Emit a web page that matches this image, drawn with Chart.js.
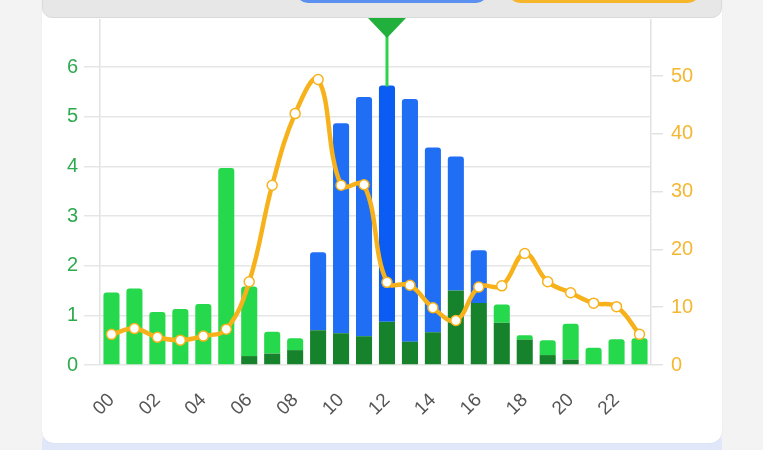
<!DOCTYPE html>
<html>
<head>
<meta charset="utf-8">
<script src="https://cdn.jsdelivr.net/npm/chart.js@4.4.1/dist/chart.umd.min.js"></script>
<style>
    html, body {
        margin: 0;
        padding: 0;
        width: 763px;
        height: 450px;
        overflow: hidden;
        background: #f3f3f3;
        font-family: "Liberation Sans", Arial, sans-serif;
    }
    .strip {
        position: absolute;
        left: 42px;
        top: 430px;
        width: 680px;
        height: 40px;
        background: #dfe7f9;
        border-radius: 12px;
    }
    .card {
        position: absolute;
        left: 42px;
        top: 0;
        width: 680px;
        height: 443px;
        background: #ffffff;
        border-radius: 0 0 12px 12px;
        box-shadow: 0 0 1px rgba(0, 0, 0, 0.15);
    }
    .header {
        position: absolute;
        left: 42px;
        top: -24px;
        width: 678px;
        height: 40px;
        background: #e7e7e7;
        border: 1px solid #dadada;
        border-radius: 10px;
        z-index: 2;
        overflow: hidden;
    }
    .pill {
        position: absolute;
        top: -10px;
        height: 36px;
        border-radius: 12px;
    }
    .pill.blue { left: 253px; width: 192px; background: #5b8ff0; }
    .pill.orange { left: 465px; width: 192px; background: #f6b52a; }
    #chartWrap {
        position: absolute;
        left: 42px;
        top: 0;
        width: 680px;
        height: 437px;
        z-index: 1;
    }
</style>
</head>
<body>
<div class="strip"></div>
<div class="card"></div>
<div class="header"><div class="pill blue"></div><div class="pill orange"></div></div>
<div id="chartWrap"><canvas id="hourChart"></canvas></div>

<script>
// Hourly data
const hours = ['00', '01', '02', '03', '04', '05', '06', '07', '08', '09', '10', '11',
               '12', '13', '14', '15', '16', '17', '18', '19', '20', '21', '22', '23'];
const darkGreenValues = [0, 0, 0, 0, 0, 0, 0.18, 0.23, 0.30, 0.70, 0.64, 0.58,
                         0.87, 0.47, 0.66, 1.50, 1.25, 0.85, 0.51, 0.20, 0.11, 0, 0, 0];
const lightGreenValues = [1.46, 1.54, 1.07, 1.13, 1.23, 3.97, 1.40, 0.44, 0.24, 0, 0, 0,
                          0, 0, 0, 0, 0, 0.37, 0.09, 0.30, 0.72, 0.35, 0.52, 0.54];
const blueValues = [0, 0, 0, 0, 0, 0, 0, 0, 0, 1.57, 4.23, 4.82,
                    4.76, 4.89, 3.72, 2.70, 1.06, 0, 0, 0, 0, 0, 0, 0];
const lineValues = [5.3, 6.3, 4.8, 4.3, 5.0, 6.2, 14.4, 31.1, 43.5, 49.4, 31.1, 31.2,
                    14.3, 13.8, 9.9, 7.7, 13.5, 13.7, 19.3, 14.4, 12.5, 10.7, 10.1, 5.3];
const leftTicks = [0, 1, 2, 3, 4, 5, 6];
const rightTicks = [0, 10, 20, 30, 40, 50];
const leftMax = 6.95;
const rightMax = 59.7;
const selectedHour = 12;

const GREEN_TEXT = '#2eaa4f';
const ORANGE = '#f7b21b';
const FONT = '"Liberation Sans", Arial, sans-serif';

// Marker above the selected bar
const markerPlugin = {
    id: 'marker',
    afterDatasetsDraw(chart) {
        const { ctx, scales } = chart;
        const x = scales.x.getPixelForValue(selectedHour);
        const total = darkGreenValues[selectedHour] + lightGreenValues[selectedHour] + blueValues[selectedHour];
        const barTop = scales.y.getPixelForValue(total);
        const top = 18;
        ctx.save();
        ctx.strokeStyle = '#2fd24c';
        ctx.lineWidth = 3;
        ctx.beginPath();
        ctx.moveTo(x, top + 10);
        ctx.lineTo(x, barTop + 1);
        ctx.stroke();
        ctx.fillStyle = '#21b03b';
        ctx.beginPath();
        ctx.moveTo(x - 19, top);
        ctx.lineTo(x + 19, top);
        ctx.lineTo(x, top + 20);
        ctx.closePath();
        ctx.fill();
        ctx.restore();
    }
};

const ctx = document.getElementById('hourChart');
new Chart(ctx, {
    type: 'bar',
    data: {
        labels: hours,
        datasets: [
            {
                type: 'line',
                label: 'line',
                data: lineValues,
                yAxisID: 'y1',
                borderColor: ORANGE,
                borderWidth: 4.5,
                tension: 0.4,
                pointRadius: 5,
                pointBackgroundColor: '#ffffff',
                pointBorderColor: ORANGE,
                pointBorderWidth: 1.5,
                order: 0
            },
            {
                label: 'dark',
                data: darkGreenValues,
                backgroundColor: '#16822c',
                barPercentage: 0.7,
                categoryPercentage: 1,
                borderRadius: 0,
                stack: 's',
                order: 1
            },
            {
                label: 'light',
                data: lightGreenValues,
                backgroundColor: '#26d84b',
                barPercentage: 0.7,
                categoryPercentage: 1,
                borderRadius: 3,
                borderSkipped: 'start',
                stack: 's',
                order: 1
            },
            {
                label: 'blue',
                data: blueValues,
                backgroundColor: hours.map((h, i) => i === selectedHour ? '#0a5cf3' : '#1f6ef4'),
                barPercentage: 0.7,
                categoryPercentage: 1,
                borderRadius: 3,
                borderSkipped: 'start',
                stack: 's',
                order: 1
            }
        ]
    },
    options: {
        responsive: true,
        maintainAspectRatio: false,
        animation: false,
        layout: {
            padding: { top: 4, left: 0, right: 0, bottom: 0 }
        },
        plugins: {
            legend: { display: false },
            tooltip: { enabled: false }
        },
        scales: {
            x: {
                stacked: true,
                grid: { display: false },
                border: { display: false },
                afterFit(scale) { scale.height = 72; },
                ticks: {
                    autoSkip: false,
                    maxRotation: 45,
                    minRotation: 45,
                    padding: 16,
                    color: '#555555',
                    font: { size: 19, family: FONT },
                    callback: function(value, index) {
                        return index % 2 === 0 ? hours[index] : '';
                    }
                }
            },
            y: {
                stacked: true,
                position: 'left',
                min: 0,
                max: leftMax,
                afterBuildTicks(scale) { scale.ticks = leftTicks.map(v => ({ value: v })); },
                afterFit(scale) { scale.width = 58; },
                grid: {
                    color: '#e6e6e6',
                    lineWidth: 1.5,
                    tickLength: 16
                },
                border: { display: true, color: '#e2e2e2', width: 1.5 },
                ticks: {
                    padding: 6,
                    color: GREEN_TEXT,
                    font: { size: 20, family: FONT }
                }
            },
            y1: {
                position: 'right',
                min: 0,
                max: rightMax,
                afterBuildTicks(scale) { scale.ticks = rightTicks.map(v => ({ value: v })); },
                afterFit(scale) { scale.width = 71; },
                grid: {
                    drawOnChartArea: false,
                    color: '#e2e2e2',
                    lineWidth: 1.5,
                    tickLength: 12
                },
                border: { display: true, color: '#e2e2e2', width: 1.5 },
                ticks: {
                    padding: 8,
                    color: '#f5b731',
                    font: { size: 20, family: FONT }
                }
            }
        }
    },
    plugins: [markerPlugin]
});
</script>
</body>
</html>
